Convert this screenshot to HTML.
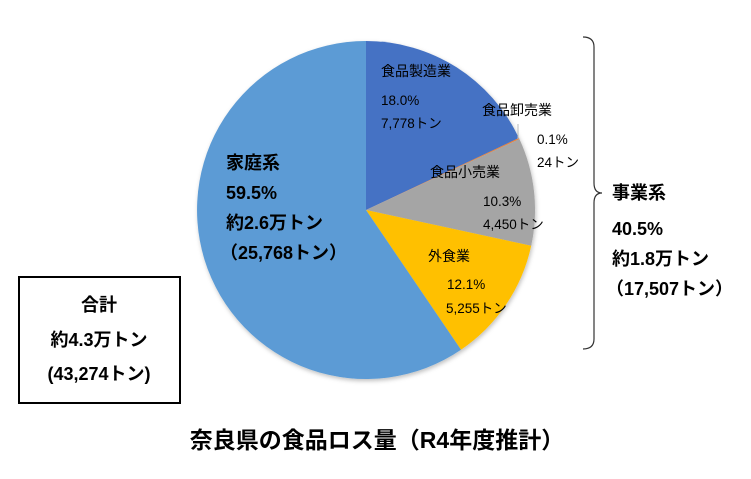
<!DOCTYPE html>
<html><head><meta charset="utf-8"><style>
body{margin:0;background:#fff;}
svg text{font-family:"Liberation Sans","Noto Sans CJK JP",sans-serif;}
</style></head><body>
<svg width="751" height="474" viewBox="0 0 751 474" xmlns="http://www.w3.org/2000/svg">
<defs><filter id="s" x="-10%" y="-10%" width="120%" height="120%"><feDropShadow dx="1" dy="2" stdDeviation="2" flood-opacity="0.25"/></filter></defs>
<g filter="url(#s)">
<path d="M366,210 L366,41 A169,169 0 0 1 518.9,138 Z" fill="#4472C4"/>
<path d="M366,210 L518.9,138 A169,169 0 0 1 519.4,139 Z" fill="#ED7D31"/>
<path d="M366,210 L519.4,139 A169,169 0 0 1 531.2,245.8 Z" fill="#A5A5A5"/>
<path d="M366,210 L531.2,245.8 A169,169 0 0 1 461,349.8 Z" fill="#FFC000"/>
<path d="M366,210 L461,349.8 A169,169 0 1 1 366,41 Z" fill="#5B9BD5"/>
</g>
<line x1="518" y1="124" x2="518" y2="139" stroke="#bbb" stroke-width="1"/>
<g font-size="13.5" fill="#000">
<text x="381" y="76" font-size="14">食品製造業</text>
<text x="381" y="105">18.0%</text>
<text x="381" y="128">7,778トン</text>
<text x="482" y="115" font-size="14">食品卸売業</text>
<text x="537" y="144">0.1%</text>
<text x="537" y="167">24トン</text>
<text x="430" y="177" font-size="14">食品小売業</text>
<text x="483" y="206">10.3%</text>
<text x="483" y="229">4,450トン</text>
<text x="428" y="261" font-size="14">外食業</text>
<text x="447" y="289">12.1%</text>
<text x="446" y="313">5,255トン</text>
</g>
<g font-size="18" font-weight="bold" fill="#000">
<text x="226" y="169">家庭系</text>
<text x="226" y="199">59.5%</text>
<text x="226" y="229">約2.6万トン</text>
<text x="220" y="259">（25,768トン）</text>
<text x="612" y="199">事業系</text>
<text x="612" y="235">40.5%</text>
<text x="612" y="265">約1.8万トン</text>
<text x="606" y="295">（17,507トン）</text>
</g>
<path d="M583,37 Q594,37 594,47 L594,183 Q594,193 602,193 Q594,193 594,203 L594,339 Q594,349 583,349" fill="none" stroke="#333" stroke-width="1.2"/>
<rect x="19" y="277" width="161" height="126" fill="#fff" stroke="#000" stroke-width="2"/>
<g font-size="18" font-weight="bold" text-anchor="middle">
<text x="99" y="311">合計</text>
<text x="99" y="346">約4.3万トン</text>
<text x="99" y="380">(43,274トン)</text>
</g>
<text x="377" y="448" font-size="23" font-weight="bold" text-anchor="middle">奈良県の食品ロス量（R4年度推計）</text>
</svg>
</body></html>
